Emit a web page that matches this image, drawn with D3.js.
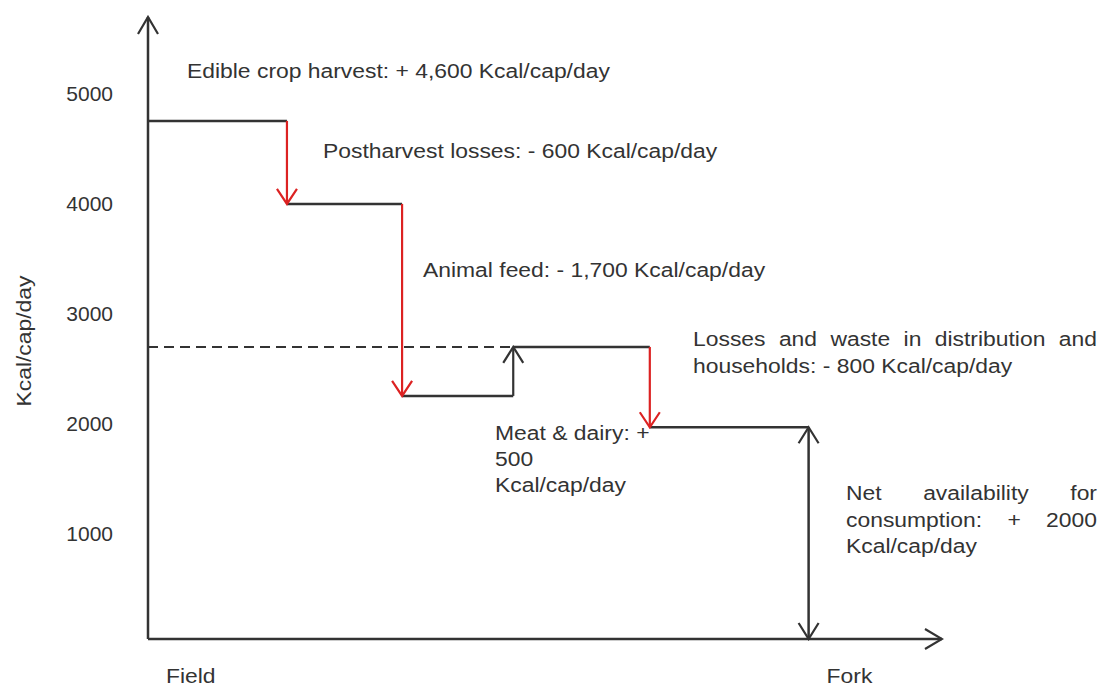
<!DOCTYPE html>
<html>
<head>
<meta charset="utf-8">
<script src="https://d3js.org/d3.v7.min.js"></script>
<style>
  body { margin: 0; background: #fff; }
  text { font-family: "Liberation Sans", Arial, sans-serif; fill: #333; }
</style>
</head>
<body>
<div id="chart"></div>
<script>
// energy left on each stretch of the chain (Kcal/cap/day)
const levels = [4710, 3955, 2210, 2655, 1925];
// start/end of each stretch along the field -> fork axis (0..100)
const breaks = [0, 17.5, 32.0, 46.0, 63.2, 83.2];
// what happens between stretch i and i+1
const stepKinds = ["loss", "loss", "gain", "loss"];
const yTicks = [1000, 2000, 3000, 4000, 5000];
const yTitle = "Kcal/cap/day";
const endLabels = ["Field", "Fork"];

const W = 1101, H = 687;
const lineCol = "#333", redCol = "#dc2222";
const fs = 21;
const stretch = 1.09; // text in the original is a bit wide

const svg = d3.select("#chart").append("svg")
  .attr("width", W).attr("height", H);

const x = d3.scaleLinear().domain([0, 100]).range([148, 942]);
const y = d3.scaleLinear().domain([0, 5000]).range([639, 89]);

// open V arrow heads
const defs = svg.append("defs");
function marker(id, col, len, half) {
  defs.append("marker")
    .attr("id", id)
    .attr("viewBox", `${-len - 2} ${-half - 2} ${len + 4} ${2 * half + 4}`)
    .attr("refX", 0).attr("refY", 0)
    .attr("markerUnits", "userSpaceOnUse")
    .attr("markerWidth", len + 4).attr("markerHeight", 2 * half + 4)
    .attr("orient", "auto-start-reverse")
    .append("path")
    .attr("d", `M${-len},${-half}L0,0L${-len},${half}`)
    .attr("fill", "none").attr("stroke", col)
    .attr("stroke-width", 2.2).attr("stroke-linejoin", "miter");
}
marker("headRed", redCol, 15, 10);
marker("headBlk", lineCol, 16, 10);
marker("headAxis", lineCol, 17, 10);

// axes
svg.append("line")
  .attr("x1", x(0)).attr("x2", x(0))
  .attr("y1", y(0)).attr("y2", 17)
  .attr("stroke", lineCol).attr("stroke-width", 2.5)
  .attr("marker-end", "url(#headAxis)");
svg.append("line")
  .attr("x1", x(0)).attr("x2", x(100))
  .attr("y1", y(0)).attr("y2", y(0))
  .attr("stroke", lineCol).attr("stroke-width", 2.5)
  .attr("marker-end", "url(#headAxis)");

const yAxis = svg.append("g")
  .attr("transform", `translate(${x(0)},0)`)
  .call(d3.axisLeft(y).tickValues(yTicks).tickSize(0).tickPadding(35).tickFormat(d3.format("d")));
yAxis.select(".domain").remove();
yAxis.selectAll("text")
  .attr("y", 5)
  .style("font-family", "'Liberation Sans', Arial, sans-serif")
  .style("font-size", fs + "px")
  .attr("fill", "#333");

svg.append("text")
  .attr("transform", `translate(31,341) rotate(-90) scale(${stretch},1)`)
  .attr("text-anchor", "middle")
  .style("font-size", fs + "px")
  .text(yTitle);

svg.selectAll(".endLabel")
  .data(endLabels)
  .enter().append("text")
  .attr("class", "endLabel")
  .attr("transform", (d, i) =>
    `translate(${x(i === 0 ? breaks[0] : breaks[breaks.length - 1]) + 18},683) scale(${stretch},1)`)
  .style("font-size", fs + "px")
  .text(d => d);

// dashed reference at the meat & dairy level
svg.append("line")
  .attr("x1", x(0)).attr("x2", x(breaks[3]))
  .attr("y1", y(levels[3])).attr("y2", y(levels[3]))
  .attr("stroke", lineCol).attr("stroke-width", 2)
  .attr("stroke-dasharray", "10,6");

// horizontal stretches
svg.selectAll(".stretch")
  .data(levels)
  .enter().append("line")
  .attr("class", "stretch")
  .attr("x1", (d, i) => x(breaks[i]))
  .attr("x2", (d, i) => x(breaks[i + 1]))
  .attr("y1", d => y(d)).attr("y2", d => y(d))
  .attr("stroke", lineCol).attr("stroke-width", 2.5);

// vertical step arrows
svg.selectAll(".step")
  .data(stepKinds)
  .enter().append("line")
  .attr("class", "step")
  .attr("x1", (d, i) => x(breaks[i + 1]))
  .attr("x2", (d, i) => x(breaks[i + 1]))
  .attr("y1", (d, i) => y(levels[i]))
  .attr("y2", (d, i) => y(levels[i + 1]))
  .attr("stroke", d => d === "loss" ? redCol : lineCol)
  .attr("stroke-width", 2.2)
  .attr("marker-end", d => d === "loss" ? "url(#headRed)" : "url(#headBlk)");

// net availability double arrow
const last = levels[levels.length - 1];
svg.append("line")
  .attr("x1", x(breaks[5])).attr("x2", x(breaks[5]))
  .attr("y1", y(0)).attr("y2", y(last))
  .attr("stroke", lineCol).attr("stroke-width", 2.5)
  .attr("marker-start", "url(#headBlk)")
  .attr("marker-end", "url(#headBlk)");

// annotations
function label(px, py, str) {
  svg.append("text")
    .attr("transform", `translate(${px},${py}) scale(${stretch},1)`)
    .style("font-size", fs + "px").text(str);
}
function justify(x0, x1, py, str) {
  const words = str.split(" ");
  const nodes = words.map(w => svg.append("text")
    .style("font-size", fs + "px").text(w));
  const widths = nodes.map(n => n.node().getComputedTextLength() * stretch);
  const gap = (x1 - x0 - d3.sum(widths)) / (words.length - 1);
  let cx = x0;
  nodes.forEach((n, i) => {
    n.attr("transform", `translate(${cx},${py}) scale(${stretch},1)`);
    cx += widths[i] + gap;
  });
}

label(187, 78, "Edible crop harvest: + 4,600 Kcal/cap/day");
label(323, 158, "Postharvest losses: - 600 Kcal/cap/day");
label(423, 277, "Animal feed: - 1,700 Kcal/cap/day");
justify(693, 1097, 346, "Losses and waste in distribution and");
label(693, 373, "households: - 800 Kcal/cap/day");
label(495, 440, "Meat & dairy: +");
label(495, 466, "500");
label(495, 492, "Kcal/cap/day");
justify(846, 1097, 500, "Net availability for");
justify(846, 1097, 527, "consumption: + 2000");
label(846, 553, "Kcal/cap/day");
</script>
</body>
</html>
